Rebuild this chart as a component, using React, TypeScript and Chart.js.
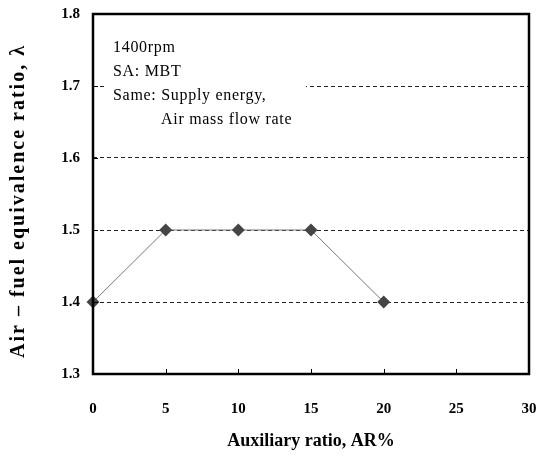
import React, { useEffect, useRef } from "react";
import { Chart, registerables } from "chart.js";

Chart.register(...registerables);

const auxRatio = [0, 5, 10, 15, 20];
const lambdaValues = [1.4, 1.5, 1.5, 1.5, 1.4];
const xTitle = "Auxiliary ratio, AR%";
const yTitle = "Air \u2013 fuel equivalence ratio, \u03bb";
const noteLines = ["1400rpm", "SA: MBT", "Same: Supply energy,", "Air mass flow rate"];

const FONT = "'Liberation Serif', 'Times New Roman', serif";

const framePlugin = {
  id: "frame",
  afterDatasetsDraw(chart: any) {
    const { ctx, chartArea, scales } = chart;
    const { left, right, top, bottom } = chartArea;
    ctx.save();
    // annotation box
    ctx.fillStyle = "#ffffff";
    ctx.fillRect(left + 14, top + 18, 199, 112);
    ctx.fillStyle = "#000000";
    ctx.font = `16px ${FONT}`;
    (ctx as any).letterSpacing = "0.7px";
    ctx.textBaseline = "middle";
    ctx.textAlign = "left";
    const x0 = left + 20;
    ctx.fillText(noteLines[0], x0, top + 34);
    ctx.fillText(noteLines[1], x0, top + 58);
    ctx.fillText(noteLines[2], x0, top + 82);
    ctx.fillText(noteLines[3], x0 + 48, top + 106);
    (ctx as any).letterSpacing = "0px";
    // inside ticks
    ctx.strokeStyle = "#000";
    ctx.lineWidth = 1;
    const xs = scales.x;
    xs.ticks.forEach((t: any) => {
      const px = Math.round(xs.getPixelForValue(t.value)) + 0.5;
      ctx.beginPath();
      ctx.moveTo(px, bottom);
      ctx.lineTo(px, bottom - 5);
      ctx.stroke();
    });
    const ys = scales.y;
    ys.ticks.forEach((t: any) => {
      const py = Math.round(ys.getPixelForValue(t.value)) + 0.5;
      ctx.beginPath();
      ctx.moveTo(left, py);
      ctx.lineTo(left + 5, py);
      ctx.stroke();
    });
    // frame
    ctx.lineWidth = 2.5;
    ctx.strokeStyle = "#000";
    ctx.strokeRect(left, top, right - left, bottom - top);
    // y axis title
    ctx.translate(19, 201);
    ctx.rotate(-Math.PI / 2);
    ctx.font = `bold 20px ${FONT}`;
    (ctx as any).letterSpacing = "2px";
    ctx.textAlign = "center";
    ctx.textBaseline = "middle";
    ctx.fillStyle = "#000";
    ctx.fillText(yTitle, 0, 0);
    ctx.restore();
  },
};

export default function App() {
  const ref = useRef<HTMLCanvasElement>(null);
  useEffect(() => {
    document.body.style.margin = "0";
    const canvas = ref.current!;
    const chart = new Chart(canvas, {
      type: "scatter",
      data: {
        datasets: [
          {
            data: auxRatio.map((x, i) => ({ x, y: lambdaValues[i] })),
            showLine: true,
            borderColor: "#777777",
            borderWidth: 1,
            pointStyle: "rectRot",
            pointRadius: 6.5,
            pointBackgroundColor: "#454545",
            pointBorderColor: "#454545",
            pointBorderWidth: 0,
            clip: false,
          } as any,
        ],
      },
      options: {
        animation: false,
        responsive: false,
        events: [],
        layout: { padding: { left: 0, right: 20, top: 14, bottom: 0 } },
        plugins: { legend: { display: false }, tooltip: { enabled: false } },
        scales: {
          x: {
            type: "linear",
            min: 0,
            max: 30,
            afterFit: (s: any) => {
              s.height = 82;
              s.paddingLeft = 0;
              s.paddingRight = 0;
            },
            ticks: {
              stepSize: 5,
              padding: 26,
              color: "#000",
              font: { family: FONT, size: 15, weight: "bold" },
            },
            grid: { display: false, drawTicks: false },
            border: { display: false },
            title: {
              display: true,
              text: xTitle,
              color: "#000",
              font: { family: FONT, size: 18, weight: "bold" },
              padding: { top: 0, bottom: 4 },
            },
          },
          y: {
            type: "linear",
            min: 1.3,
            max: 1.8,
            afterFit: (s: any) => {
              s.width = 93;
              s.paddingTop = 0;
              s.paddingBottom = 0;
            },
            ticks: {
              stepSize: 0.1,
              padding: 13,
              color: "#000",
              font: { family: FONT, size: 15, weight: "bold" },
              callback: (v: any) => Number(v).toFixed(1),
            },
            grid: {
              drawTicks: false,
              lineWidth: 1,
              color: (c: any) => {
                const v = c.tick ? c.tick.value : 0;
                if (Math.abs(v - 1.3) < 1e-6 || Math.abs(v - 1.8) < 1e-6) return "rgba(0,0,0,0)";
                return "#222";
              },
            },
            border: { display: false, dash: [4, 3] },
            title: { display: false, text: yTitle },
          },
        },
      },
      plugins: [framePlugin],
    });
    return () => chart.destroy();
  }, []);
  return <canvas ref={ref} width={549} height={456} style={{ display: "block" }} />;
}
